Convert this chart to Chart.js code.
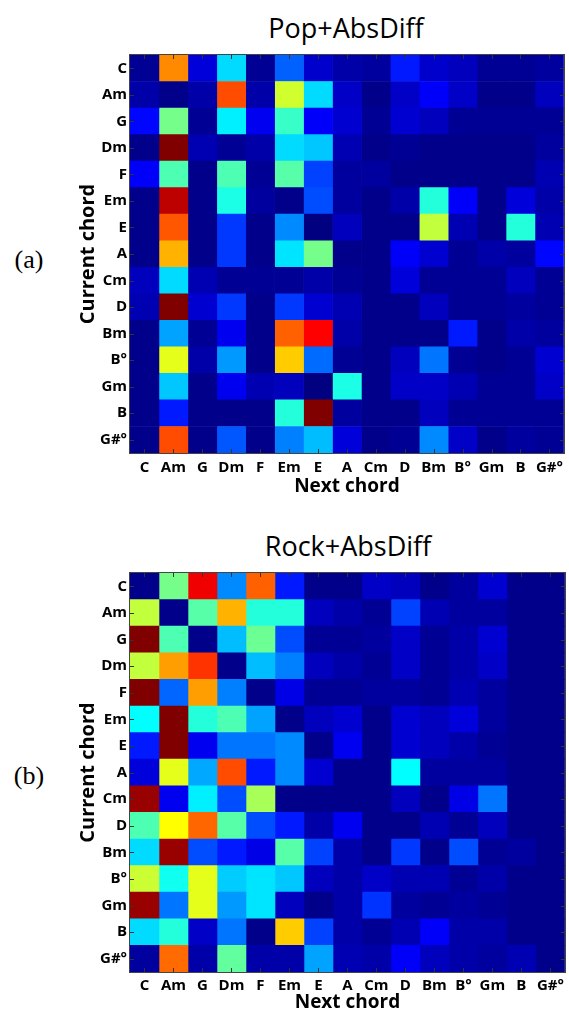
<!DOCTYPE html>
<html>
<head>
<meta charset="utf-8">
<script src="https://cdn.jsdelivr.net/npm/chart.js@4.4.1/dist/chart.umd.min.js"></script>
<style>
  html, body { margin: 0; padding: 0; background: #fff; width: 569px; height: 1013px; overflow: hidden; }
  .wrap { position: absolute; left: 0; width: 569px; }
  .title { position: absolute; font-family: "Open Sans", sans-serif; font-size: 27px; line-height: 1; color: #000; white-space: nowrap; transform: translateX(-50%); }
  .tag { position: absolute; font-family: "Liberation Serif", serif; font-size: 26px; line-height: 1; color: #000; white-space: nowrap; transform: translateX(-50%); }
</style>
</head>
<body>
<div class="title" style="left:346px; top:14px;">Pop+AbsDiff</div>
<div class="tag" style="left:29px; top:247px;">(a)</div>
<div class="wrap" style="top:0; height:506px;"><canvas id="popChart"></canvas></div>

<div class="title" style="left:348px; top:532px;">Rock+AbsDiff</div>
<div class="tag" style="left:29px; top:763px;">(b)</div>
<div class="wrap" style="top:506px; height:507px;"><canvas id="rockChart"></canvas></div>

<script>
// Chord categories (rows = current chord, columns = next chord)
const chords = ["C", "Am", "G", "Dm", "F", "Em", "E", "A", "Cm", "D", "Bm", "B°", "Gm", "B", "G#°"];

// Pop+AbsDiff — one array per current chord, values 0..1 per next chord
const popC    = [0.02, 0.74, 0.09, 0.34, 0.02, 0.22, 0.075, 0.04, 0.03, 0.15, 0.075, 0.06, 0.02, 0.02, 0.03];
const popAm   = [0.04, 0.01, 0.04, 0.80, 0.04, 0.58, 0.34, 0.07, 0.01, 0.07, 0.12, 0.07, 0.01, 0.01, 0.06];
const popG    = [0.13, 0.49, 0.02, 0.36, 0.11, 0.43, 0.12, 0.08, 0.02, 0.08, 0.06, 0.02, 0.02, 0.02, 0.02];
const popDm   = [0.01, 1.00, 0.05, 0.02, 0.04, 0.34, 0.32, 0.05, 0.01, 0.02, 0.01, 0.01, 0.01, 0.01, 0.03];
const popF    = [0.12, 0.45, 0.01, 0.45, 0.02, 0.46, 0.19, 0.03, 0.03, 0.01, 0.01, 0.01, 0.01, 0.01, 0.05];
const popEm   = [0.01, 0.94, 0.01, 0.40, 0.03, 0.01, 0.20, 0.03, 0.01, 0.04, 0.41, 0.12, 0.01, 0.09, 0.04];
const popE    = [0.01, 0.79, 0.01, 0.18, 0.01, 0.26, 0.00, 0.06, 0.01, 0.01, 0.565, 0.05, 0.01, 0.41, 0.05];
const popA    = [0.01, 0.70, 0.01, 0.18, 0.01, 0.35, 0.49, 0.01, 0.01, 0.12, 0.08, 0.02, 0.04, 0.03, 0.13];
const popCm   = [0.06, 0.34, 0.05, 0.02, 0.02, 0.02, 0.04, 0.02, 0.01, 0.09, 0.02, 0.02, 0.02, 0.06, 0.02];
const popD    = [0.05, 1.00, 0.08, 0.18, 0.01, 0.18, 0.08, 0.05, 0.01, 0.01, 0.06, 0.02, 0.02, 0.03, 0.02];
const popBm   = [0.01, 0.285, 0.02, 0.11, 0.01, 0.78, 0.875, 0.04, 0.01, 0.01, 0.01, 0.15, 0.01, 0.04, 0.03];
const popBdim = [0.01, 0.60, 0.04, 0.275, 0.01, 0.675, 0.23, 0.02, 0.01, 0.06, 0.24, 0.02, 0.01, 0.02, 0.08];
const popGm   = [0.01, 0.32, 0.01, 0.11, 0.05, 0.06, 0.00, 0.40, 0.01, 0.07, 0.07, 0.05, 0.02, 0.02, 0.07];
const popB    = [0.01, 0.15, 0.01, 0.01, 0.01, 0.41, 1.00, 0.03, 0.01, 0.01, 0.06, 0.02, 0.02, 0.02, 0.02];
const popGsdim= [0.01, 0.80, 0.01, 0.21, 0.01, 0.25, 0.31, 0.09, 0.01, 0.02, 0.26, 0.07, 0.01, 0.03, 0.02];

// Rock+AbsDiff
const rockC    = [0.01, 0.49, 0.89, 0.26, 0.78, 0.15, 0.01, 0.01, 0.07, 0.06, 0.01, 0.03, 0.08, 0.01, 0.01];
const rockAm   = [0.565, 0.01, 0.46, 0.70, 0.41, 0.41, 0.06, 0.04, 0.02, 0.19, 0.05, 0.03, 0.03, 0.01, 0.01];
const rockG    = [1.00, 0.45, 0.01, 0.31, 0.48, 0.20, 0.02, 0.02, 0.03, 0.07, 0.02, 0.04, 0.08, 0.01, 0.01];
const rockDm   = [0.565, 0.72, 0.825, 0.01, 0.31, 0.25, 0.06, 0.04, 0.02, 0.07, 0.02, 0.04, 0.07, 0.01, 0.01];
const rockF    = [1.00, 0.225, 0.72, 0.25, 0.01, 0.10, 0.02, 0.02, 0.03, 0.03, 0.02, 0.05, 0.03, 0.01, 0.01];
const rockEm   = [0.375, 1.00, 0.41, 0.45, 0.285, 0.01, 0.06, 0.08, 0.01, 0.08, 0.06, 0.09, 0.03, 0.01, 0.01];
const rockE    = [0.15, 1.00, 0.11, 0.24, 0.24, 0.26, 0.01, 0.11, 0.01, 0.08, 0.06, 0.04, 0.02, 0.01, 0.01];
const rockA    = [0.09, 0.60, 0.29, 0.80, 0.15, 0.26, 0.08, 0.01, 0.01, 0.375, 0.03, 0.03, 0.03, 0.01, 0.01];
const rockCm   = [0.975, 0.11, 0.36, 0.20, 0.54, 0.01, 0.01, 0.01, 0.01, 0.06, 0.01, 0.10, 0.24, 0.01, 0.01];
const rockD    = [0.45, 0.625, 0.775, 0.46, 0.20, 0.15, 0.04, 0.11, 0.01, 0.01, 0.05, 0.02, 0.06, 0.01, 0.01];
const rockBm   = [0.34, 0.975, 0.20, 0.15, 0.10, 0.46, 0.19, 0.04, 0.01, 0.18, 0.01, 0.20, 0.02, 0.03, 0.01];
const rockBdim = [0.575, 0.39, 0.60, 0.325, 0.35, 0.32, 0.06, 0.04, 0.07, 0.05, 0.05, 0.02, 0.04, 0.01, 0.01];
const rockGm   = [0.975, 0.24, 0.60, 0.275, 0.35, 0.06, 0.01, 0.04, 0.175, 0.03, 0.02, 0.03, 0.02, 0.01, 0.01];
const rockB    = [0.34, 0.41, 0.07, 0.24, 0.01, 0.675, 0.19, 0.04, 0.02, 0.05, 0.12, 0.04, 0.04, 0.01, 0.01];
const rockGsdim= [0.03, 0.77, 0.04, 0.47, 0.04, 0.04, 0.285, 0.05, 0.04, 0.12, 0.06, 0.04, 0.03, 0.05, 0.01];

const popMatrix  = [popC, popAm, popG, popDm, popF, popEm, popE, popA, popCm, popD, popBm, popBdim, popGm, popB, popGsdim];
const rockMatrix = [rockC, rockAm, rockG, rockDm, rockF, rockEm, rockE, rockA, rockCm, rockD, rockBm, rockBdim, rockGm, rockB, rockGsdim];

// MATLAB "jet" colormap
function jet(v) {
  v = Math.max(0, Math.min(1, v));
  const c = t => Math.round(255 * Math.max(0, Math.min(1, t)));
  const r = c(Math.min(4 * v - 1.5, -4 * v + 4.5));
  const g = c(Math.min(4 * v - 0.5, -4 * v + 3.5));
  const b = c(Math.min(4 * v + 0.5, -4 * v + 2.5));
  return `rgb(${r},${g},${b})`;
}

// Box + inward tick marks (MATLAB style)
const boxTicks = {
  id: 'boxTicks',
  afterDatasetsDraw(chart) {
    const { ctx, chartArea: a, scales: { x, y } } = chart;
    ctx.save();
    ctx.strokeStyle = '#333';
    ctx.lineWidth = 1;
    ctx.beginPath();
    const L = 4;
    x.ticks.forEach(t => {
      const px = Math.round(x.getPixelForValue(t.value)) + 0.5;
      ctx.moveTo(px, a.top); ctx.lineTo(px, a.top + L);
      ctx.moveTo(px, a.bottom); ctx.lineTo(px, a.bottom - L);
    });
    chords.forEach((c, i) => {
      const py = Math.round(y.getPixelForValue(i)) + 0.5;
      ctx.moveTo(a.left, py); ctx.lineTo(a.left + L, py);
      ctx.moveTo(a.right, py); ctx.lineTo(a.right - L, py);
    });
    ctx.stroke();
    ctx.strokeStyle = '#444';
    ctx.strokeRect(Math.round(a.left) - 0.5, Math.round(a.top) - 0.5, Math.round(a.right - a.left) + 1, Math.round(a.bottom - a.top) + 1);
    ctx.restore();
  }
};

function makeHeatmap(id, matrix, cfg) {
  const datasets = chords.map((col, j) => ({
    label: col,
    data: matrix.map(() => [j, j + 1]),
    backgroundColor: matrix.map(row => jet(row[j])),
    borderWidth: 0,
    barPercentage: 1,
    categoryPercentage: 1,
    grouped: false
  }));
  return new Chart(document.getElementById(id), {
    type: 'bar',
    data: { labels: chords, datasets },
    plugins: [boxTicks],
    options: {
      indexAxis: 'y',
      responsive: true,
      maintainAspectRatio: false,
      animation: false,
      events: [],
      layout: { padding: { top: cfg.top, right: 4, bottom: 0, left: 0 } },
      plugins: { legend: { display: false }, tooltip: { enabled: false }, title: { display: false } },
      scales: {
        x: {
          type: 'linear',
          min: 0, max: chords.length,
          grid: { display: false, drawTicks: false },
          border: { display: false },
          afterBuildTicks: s => { s.ticks = chords.map((c, i) => ({ value: i + 0.5 })); },
          afterFit: s => { s.height = cfg.xHeight; },
          ticks: {
            autoSkip: false, maxRotation: 0, padding: cfg.xPad,
            color: '#000',
            font: { family: 'Open Sans', size: 15, weight: 'bold' },
            callback: (v, i) => chords[i]
          },
          title: {
            display: true, text: 'Next chord', color: '#000',
            font: { family: 'Open Sans', size: 19, weight: 'bold', lineHeight: 1 },
            padding: { top: 0, bottom: cfg.xTitlePad }
          }
        },
        y: {
          type: 'category',
          grid: { display: false, drawTicks: false },
          border: { display: false },
          afterFit: s => { s.width = 130; },
          ticks: {
            autoSkip: false, padding: 3, color: '#000',
            font: { family: 'Open Sans', size: 15, weight: 'bold' }
          },
          title: {
            display: true, text: 'Current chord', color: '#000',
            font: { family: 'Open Sans', size: 20, weight: 'bold', lineHeight: 1 },
            padding: { top: 78, bottom: 0 }
          }
        }
      }
    }
  });
}

makeHeatmap('popChart', popMatrix, { top: 55, xHeight: 53, xPad: 6, xTitlePad: 9.5 });
makeHeatmap('rockChart', rockMatrix, { top: 67, xHeight: 41, xPad: 5, xTitlePad: 0.5 });
</script>
</body>
</html>
